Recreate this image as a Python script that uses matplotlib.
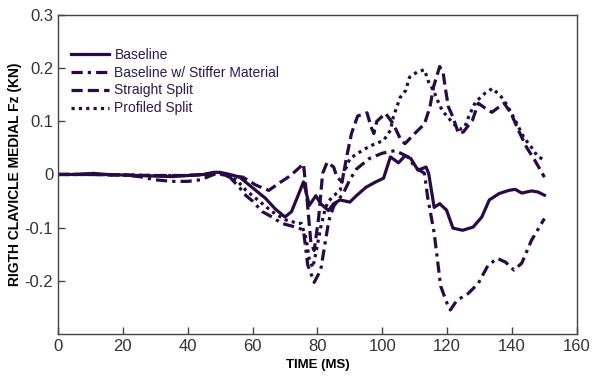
import matplotlib
matplotlib.use('Agg')
import matplotlib.pyplot as plt

# values (time in ms, force in kN)
t_base = [0, 5, 11, 15, 20, 25, 30, 35, 40, 45, 48, 50, 53, 56, 60, 64, 67, 70, 72, 74,
          75.7, 77.5, 79.5, 81, 83.4, 85, 87, 90, 92, 95, 98, 100.4, 102.5, 105, 107,
          108.8, 111, 113.5, 114.3, 116, 117.7, 119.8, 121.8, 124.8, 128, 130.7, 133,
          136, 139, 141, 143, 146, 148, 150]
fz_base = [0.0, 0.0, 0.002, 0.0, -0.001, -0.002, -0.003, -0.004, -0.002, 0.0, 0.004, 0.004,
           0.0, -0.005, -0.025, -0.045, -0.065, -0.08, -0.07, -0.04,
           -0.014, -0.058, -0.04, -0.055, -0.068, -0.055, -0.048, -0.052, -0.04, -0.024,
           -0.014, -0.007, 0.033, 0.022, 0.035,
           0.03, 0.008, 0.014, 0.002, -0.062, -0.055, -0.067, -0.101, -0.105, -0.099,
           -0.08, -0.048, -0.036, -0.03, -0.028, -0.035, -0.031, -0.033, -0.039]

t_stiff = [0, 10, 20, 25, 30, 35, 40, 44, 48, 50, 53, 56, 58, 60, 63, 66, 69, 72, 74,
           75.7, 77, 79, 81, 82.5, 83.5, 85, 88, 90, 92, 94, 96, 100, 104, 108, 110,
           113, 114, 116, 117, 118, 120, 121, 123, 126.5, 129.6, 132.6, 135.5, 138,
           140.6, 143, 146, 150]
fz_stiff = [0.0, 0.0, -0.001, -0.004, -0.01, -0.013, -0.013, -0.01, 0.0, 0.002, -0.005,
            -0.025, -0.04, -0.05, -0.07, -0.08, -0.092, -0.097, -0.1,
            -0.105, -0.17, -0.203, -0.18, -0.124, -0.087, -0.06, -0.035, -0.01, 0.01,
            0.02, 0.03, 0.04, 0.045, 0.033, 0.014,
            0.002, -0.043, -0.11, -0.16, -0.21, -0.243, -0.255, -0.237, -0.224, -0.205,
            -0.171, -0.158, -0.165, -0.18, -0.167, -0.124, -0.083]

t_straight = [0, 10, 20, 30, 40, 45, 48, 52, 57, 61, 65, 68, 71, 73, 75.7, 77, 78, 79,
              80.4, 81.6, 83, 85, 86, 87.6, 89, 90.5, 92.4, 95.3, 96.5, 97.4, 98.3, 101,
              103.4, 105.8, 107, 110, 113, 114.7, 115.8, 117.7, 118.8, 119.5, 120.4,
              121.8, 123.5, 125, 127.8, 129.6, 131.7, 133.8, 136, 137.6, 139.7, 142,
              144.5, 147, 150]
fz_straight = [0.0, 0.0, -0.001, -0.002, -0.002, 0.0, 0.003, -0.002, -0.005, -0.02, -0.03,
               -0.017, -0.005, 0.005, 0.02, -0.06, -0.13, -0.143,
               -0.08, 0.002, 0.023, 0.014, -0.005, -0.014, 0.033, 0.077, 0.11, 0.116,
               0.09, 0.077, 0.1, 0.115,
               0.095, 0.064, 0.058, 0.077, 0.095, 0.127, 0.165, 0.203, 0.19, 0.16, 0.127,
               0.108, 0.077, 0.08, 0.102, 0.134, 0.125, 0.117, 0.127, 0.134, 0.115, 0.083,
               0.051, 0.027, -0.005]

t_prof = [0, 10, 20, 30, 40, 45, 50, 55, 58, 62, 66, 70, 74, 75, 76.5, 77.5, 78.6, 79.5,
          81, 82.5, 83.5, 85, 87, 88, 90, 94, 96.8, 100.4, 102.5, 103.4, 105.5, 107.2,
          108.4, 110.8, 113, 114.4, 115.8, 117, 118.5, 120.6, 122, 124, 125.5, 126.6,
          128.7, 131.7, 134, 136.7, 138.5, 141, 143.6, 146, 148, 150]
fz_prof = [0.0, 0.0, -0.001, -0.002, -0.002, 0.0, 0.002, -0.01, -0.03, -0.05, -0.07,
           -0.085, -0.092, -0.092, -0.12, -0.16, -0.175, -0.148,
           -0.1, -0.062, -0.05, -0.04, -0.03, 0.0, 0.03, 0.046, 0.055, 0.064, 0.083,
           0.108, 0.145, 0.158,
           0.183, 0.193, 0.197, 0.172, 0.158, 0.14, 0.12, 0.105, 0.095, 0.085, 0.09,
           0.108, 0.136, 0.153, 0.162, 0.146, 0.13, 0.102, 0.07, 0.051, 0.033, 0.028]

labels = ['Baseline', 'Baseline w/ Stiffer Material', 'Straight Split', 'Profiled Split']
yticks = [-0.2, -0.1, 0, 0.1, 0.2, 0.3]
ytick_labels = ['-0.2', '-0.1', '0', '0.1', '0.2', '0.3']
xticks = [0, 20, 40, 60, 80, 100, 120, 140, 160]

plt.rcParams['font.family'] = ['Liberation Sans', 'DejaVu Sans']
col = '#260b44'
lw = 2.3

fig = plt.figure(figsize=(5.95, 3.76), dpi=100)
ax = fig.add_axes([0.0975, 0.112, 0.872, 0.848])

ax.plot(t_base, fz_base, color=col, lw=lw, label=labels[0])
ax.plot(t_stiff, fz_stiff, color=col, lw=lw, dashes=(3.5, 1.6, 1.0, 1.6), label=labels[1])
ax.plot(t_straight, fz_straight, color=col, lw=lw, dashes=(3.5, 1.6), label=labels[2])
ax.plot(t_prof, fz_prof, color=col, lw=lw, dashes=(1.0, 1.3), label=labels[3])

ax.set_xlim(0, 160)
ax.set_ylim(-0.3, 0.3)
ax.set_xticks(xticks)
ax.set_yticks(yticks)
ax.set_yticklabels(ytick_labels)
ax.tick_params(direction='in', length=5, width=1, color='#444444',
               labelsize=12, labelcolor='#333333', top=False, right=False)
for s in ax.spines.values():
    s.set_color('#444444')
    s.set_linewidth(1)

ax.set_xlabel('TIME (MS)', fontsize=9.5, fontweight='bold', labelpad=4)
ax.set_ylabel('RIGTH CLAVICLE MEDIAL Fz (KN)', fontsize=10, fontweight='bold', labelpad=2)

leg = ax.legend(loc='upper left', bbox_to_anchor=(0.015, 0.915), frameon=False,
                fontsize=10, handlelength=2.7, handletextpad=0.4, labelspacing=0.28,
                borderaxespad=0)
for txt in leg.get_texts():
    txt.set_color('#2b1a4e')

fig.savefig('out.png', dpi=100)
